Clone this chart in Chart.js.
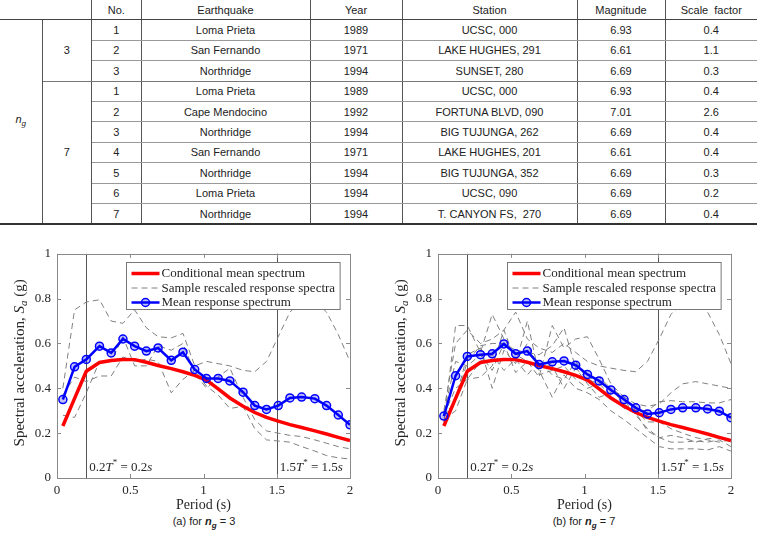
<!DOCTYPE html>
<html>
<head>
<meta charset="utf-8">
<script src="https://cdn.jsdelivr.net/npm/chart.js@4.4.0/dist/chart.umd.min.js"></script>
<style>
  body { margin: 0; width: 757px; height: 535px; background: #fff; position: relative; overflow: hidden; }
  #tbl { position: absolute; left: 0; top: 0; width: 757px; border-collapse: collapse; table-layout: fixed;
         font: 11px "Liberation Sans", Arial, sans-serif; color: #222; }
  #tbl th, #tbl td { padding: 0; text-align: center; font-weight: normal; height: 19.4px; line-height: 12px; }
  #tbl tr { height: 19.4px; }
  #tbl th { border-bottom: 1px solid #444; }
  #tbl .v { border-left: 1px solid #555; }
  #tbl .h { border-bottom: 1px solid #999; }
  #tbl .last td { border-bottom: 2px solid #333; }
  #tbl .ng { font-style: italic; border-right: 1px solid #555; border-bottom: 2px solid #333; }
  #tbl .grp { border-right: 1px solid #555; }
  .plot { position: absolute; top: 240px; }
  .cap { position: absolute; top: 515px; font: 11px "Liberation Sans", Arial, sans-serif; color: #222;
         transform: translateX(-50%); white-space: nowrap; }
  .cap b { font-style: italic; }
  .cap sub { font-size: 8px; }
</style>
</head>
<body>
<table id="tbl">
  <colgroup>
    <col style="width:42px"><col style="width:49.5px"><col style="width:49.5px"><col style="width:169px">
    <col style="width:92px"><col style="width:175px"><col style="width:88px"><col style="width:92px">
  </colgroup>
  <thead><tr id="head"></tr></thead>
  <tbody id="tbody"></tbody>
</table>

<div class="plot" style="left:0px"><canvas id="chartA" width="378" height="275"></canvas></div>
<div class="plot" style="left:378px"><canvas id="chartB" width="379" height="275"></canvas></div>
<div class="cap" style="left:204px">(a) for <b><i>n</i><sub>g</sub></b> = 3</div>
<div class="cap" style="left:584px">(b) for <b><i>n</i><sub>g</sub></b> = 7</div>

<script>
// ── Table data ───────────────────────────────────────────
const headers = ["No.", "Earthquake", "Year", "Station", "Magnitude", "Scale  factor"];
const groupSizes = [3, 7];
const recNo = [1, 2, 3, 1, 2, 3, 4, 5, 6, 7];
const quakes = ["Loma Prieta", "San Fernando", "Northridge", "Loma Prieta", "Cape Mendocino",
                "Northridge", "San Fernando", "Northridge", "Loma Prieta", "Northridge"];
const years = [1989, 1971, 1994, 1989, 1992, 1994, 1971, 1994, 1994, 1994];
const stations = ["UCSC, 000", "LAKE HUGHES, 291", "SUNSET, 280", "UCSC, 000", "FORTUNA BLVD, 090",
                  "BIG TUJUNGA, 262", "LAKE HUGHES, 201", "BIG TUJUNGA, 352", "UCSC, 090", "T. CANYON FS,  270"];
const magnitudes = ["6.93", "6.61", "6.69", "6.93", "7.01", "6.69", "6.61", "6.69", "6.69", "6.69"];
const scaleFactors = ["0.4", "1.1", "0.3", "0.4", "2.6", "0.4", "0.4", "0.3", "0.2", "0.4"];

// ── Spectra data ─────────────────────────────────────────
const periods = [0.04, 0.12, 0.20, 0.29, 0.37, 0.45, 0.53, 0.61, 0.69, 0.78, 0.86, 0.94, 1.02,
                 1.10, 1.18, 1.27, 1.35, 1.43, 1.51, 1.59, 1.67, 1.76, 1.84, 1.92, 2.00];
const cmsSa = [0.232, 0.355, 0.476, 0.515, 0.524, 0.529, 0.528, 0.516, 0.502, 0.488, 0.474, 0.458, 0.437,
               0.398, 0.357, 0.32, 0.292, 0.27, 0.254, 0.238, 0.225, 0.21, 0.196, 0.181, 0.167];
const meanSaA = [0.35, 0.496, 0.529, 0.588, 0.558, 0.62, 0.588, 0.566, 0.58, 0.525, 0.561, 0.484, 0.444,
                 0.444, 0.433, 0.383, 0.323, 0.306, 0.323, 0.357, 0.361, 0.354, 0.323, 0.281, 0.237];
const meanSaB = [0.276, 0.456, 0.542, 0.55, 0.554, 0.598, 0.554, 0.566, 0.506, 0.518, 0.522, 0.503, 0.462,
                 0.433, 0.393, 0.35, 0.313, 0.286, 0.291, 0.306, 0.313, 0.313, 0.308, 0.298, 0.269];
const samplesA = [
  [0.40, 0.75, 0.785, 0.795, 0.70, 0.69, 0.75, 0.67, 0.63, 0.625, 0.645, 0.50, 0.52, 0.51, 0.50, 0.48, 0.474, 0.52, 0.63, 0.74, 0.79, 0.79, 0.74, 0.64, 0.52],
  [0.28, 0.27, 0.38, 0.52, 0.52, 0.63, 0.50, 0.50, 0.59, 0.57, 0.60, 0.47, 0.40, 0.45, 0.49, 0.36, 0.26, 0.21, 0.20, 0.19, 0.185, 0.17, 0.155, 0.14, 0.13],
  [0.37, 0.45, 0.43, 0.455, 0.455, 0.54, 0.52, 0.53, 0.52, 0.38, 0.44, 0.48, 0.41, 0.37, 0.31, 0.32, 0.22, 0.17, 0.165, 0.16, 0.14, 0.12, 0.10, 0.09, 0.085],
];
const samplesB = [
  [0.30, 0.60, 0.66, 0.60, 0.62, 0.66, 0.74, 0.62, 0.58, 0.56, 0.60, 0.56, 0.52, 0.50, 0.49, 0.48, 0.474, 0.52, 0.62, 0.73, 0.78, 0.79, 0.74, 0.64, 0.51],
  [0.25, 0.68, 0.68, 0.56, 0.73, 0.62, 0.55, 0.52, 0.45, 0.68, 0.58, 0.62, 0.63, 0.53, 0.42, 0.36, 0.30, 0.25, 0.25, 0.22, 0.20, 0.18, 0.17, 0.16, 0.17],
  [0.28, 0.40, 0.44, 0.45, 0.50, 0.66, 0.52, 0.60, 0.48, 0.36, 0.46, 0.40, 0.38, 0.35, 0.30, 0.26, 0.22, 0.18, 0.14, 0.13, 0.13, 0.13, 0.125, 0.14, 0.12],
  [0.27, 0.35, 0.55, 0.58, 0.40, 0.57, 0.51, 0.70, 0.46, 0.48, 0.50, 0.44, 0.40, 0.42, 0.40, 0.36, 0.33, 0.32, 0.33, 0.38, 0.42, 0.43, 0.42, 0.41, 0.40],
  [0.26, 0.30, 0.44, 0.52, 0.55, 0.48, 0.53, 0.46, 0.52, 0.46, 0.44, 0.52, 0.44, 0.45, 0.40, 0.33, 0.30, 0.30, 0.34, 0.345, 0.34, 0.34, 0.335, 0.335, 0.35],
  [0.29, 0.52, 0.50, 0.55, 0.48, 0.60, 0.47, 0.52, 0.50, 0.50, 0.40, 0.49, 0.42, 0.36, 0.38, 0.35, 0.28, 0.22, 0.18, 0.16, 0.16, 0.165, 0.16, 0.17, 0.14],
  [0.28, 0.34, 0.52, 0.59, 0.60, 0.60, 0.57, 0.56, 0.55, 0.59, 0.67, 0.49, 0.44, 0.42, 0.37, 0.31, 0.29, 0.21, 0.18, 0.19, 0.18, 0.16, 0.175, 0.18, 0.16],
];
const xTicks = [0, 0.5, 1, 1.5, 2];
const yTicks = [0, 0.2, 0.4, 0.6, 0.8, 1];
const refPeriods = [0.2, 1.5];
const legendLabels = ["Conditional mean spectrum", "Sample rescaled response spectra", "Mean response spectrum"];

// ── Build table ──────────────────────────────────────────
const head = document.getElementById("head");
head.innerHTML = `<th colspan="2"></th>` + headers.map(h => `<th class="v">${h.replace(/  /g, "&nbsp; ")}</th>`).join("");
const tbody = document.getElementById("tbody");
let html = "";
let i = 0;
groupSizes.forEach((n, g) => {
  for (let k = 0; k < n; k++, i++) {
    const lastRow = i === recNo.length - 1;
    const rowLine = k === n - 1 ? (lastRow ? "" : "border-bottom:1px solid #777;") : "";
    html += `<tr class="${lastRow ? "last" : ""}">`;
    if (i === 0) html += `<td class="ng" rowspan="${recNo.length}">n<sub style="font-size:8px">g</sub></td>`;
    if (k === 0) html += `<td class="grp" rowspan="${n}" style="${g === groupSizes.length - 1 ? "border-bottom:2px solid #333" : "border-bottom:1px solid #777"}">${n}</td>`;
    const cls = k === n - 1 ? "" : "h";
    const cells = [recNo[i], quakes[i], years[i], stations[i], magnitudes[i], scaleFactors[i]];
    html += cells.map((c, j) => `<td class="${cls}${j ? " v" : ""}" style="${rowLine}">${String(c).replace(/  /g, "&nbsp; ")}</td>`).join("");
    html += "</tr>";
  }
});
tbody.innerHTML = html;

// ── Chart helpers ────────────────────────────────────────
const serif = '"Liberation Serif", "Times New Roman", serif';
const ink = "#262626";

function richWidth(ctx, parts) {
  let w = 0;
  for (const p of parts) { ctx.font = p.font; w += ctx.measureText(p.t).width; }
  return w;
}
function drawRich(ctx, parts, x, y) {
  for (const p of parts) {
    ctx.font = p.font;
    ctx.fillText(p.t, x, y + (p.dy || 0));
    x += ctx.measureText(p.t).width;
  }
}
function annot(v) {
  return [
    { t: v, font: `13px ${serif}` },
    { t: "T", font: `italic 13px ${serif}` },
    { t: "*", font: `9px ${serif}`, dy: -5 },
    { t: " = " + v, font: `13px ${serif}` },
    { t: "s", font: `italic 13px ${serif}` },
  ];
}

const decor = {
  id: "decor",
  beforeDatasetsDraw(chart) {
    const { ctx, chartArea: a, scales: { x } } = chart;
    ctx.save();
    ctx.strokeStyle = "#555";
    ctx.lineWidth = 1;
    for (const p of refPeriods) {
      const px = Math.round(x.getPixelForValue(p)) + 0.5;
      ctx.beginPath(); ctx.moveTo(px, a.top); ctx.lineTo(px, a.bottom); ctx.stroke();
    }
    ctx.restore();
  },
  afterDraw(chart) {
    const { ctx, chartArea: a, scales: { x, y } } = chart;
    ctx.save();
    // reference labels
    ctx.fillStyle = ink;
    ctx.textBaseline = "middle";
    drawRich(ctx, annot("0.2"), x.getPixelForValue(refPeriods[0]) + 3, a.bottom - 10);
    drawRich(ctx, annot("1.5"), x.getPixelForValue(refPeriods[1]) + 3, a.bottom - 10);

    // axes box and inward ticks
    ctx.strokeStyle = "#8a8a8a";
    ctx.lineWidth = 1;
    ctx.strokeRect(Math.round(a.left) + 0.5, Math.round(a.top) + 0.5, Math.round(a.width), Math.round(a.height));
    ctx.beginPath();
    for (const v of xTicks) {
      const px = Math.round(x.getPixelForValue(v)) + 0.5;
      ctx.moveTo(px, a.bottom); ctx.lineTo(px, a.bottom - 4);
      ctx.moveTo(px, a.top); ctx.lineTo(px, a.top + 4);
    }
    for (const v of yTicks) {
      const py = Math.round(y.getPixelForValue(v)) + 0.5;
      ctx.moveTo(a.left, py); ctx.lineTo(a.left + 4, py);
      ctx.moveTo(a.right, py); ctx.lineTo(a.right - 4, py);
    }
    ctx.stroke();

    // legend
    const lf = `13px ${serif}`;
    ctx.font = lf;
    const tw = Math.max(...legendLabels.map(l => ctx.measureText(l).width));
    const bw = 36 + tw + 4, bh = 47;
    const bx = Math.round(a.right - 10 - bw) + 0.5, by = Math.round(a.top + 8) + 0.5;
    ctx.fillStyle = "#fff";
    ctx.fillRect(bx, by, bw, bh);
    ctx.strokeStyle = "#777";
    ctx.strokeRect(bx, by, bw, bh);
    const rows = [by + 11, by + 25.5, by + 40];
    const x0 = bx + 5, x1 = bx + 33;
    ctx.lineCap = "butt";
    ctx.strokeStyle = "#ff0000"; ctx.lineWidth = 3.5;
    ctx.beginPath(); ctx.moveTo(x0, rows[0]); ctx.lineTo(x1, rows[0]); ctx.stroke();
    ctx.strokeStyle = "#808080"; ctx.lineWidth = 1; ctx.setLineDash([6, 4]);
    ctx.beginPath(); ctx.moveTo(x0, rows[1]); ctx.lineTo(x1, rows[1]); ctx.stroke();
    ctx.setLineDash([]);
    ctx.strokeStyle = "#0000ff"; ctx.lineWidth = 2.5;
    ctx.beginPath(); ctx.moveTo(x0, rows[2]); ctx.lineTo(x1, rows[2]); ctx.stroke();
    ctx.lineWidth = 1.5; ctx.fillStyle = "rgba(0,0,255,0.25)";
    ctx.beginPath(); ctx.arc((x0 + x1) / 2, rows[2], 4, 0, Math.PI * 2); ctx.fill(); ctx.stroke();
    ctx.fillStyle = ink;
    ctx.font = lf;
    legendLabels.forEach((l, k) => ctx.fillText(l, bx + 35, rows[k] + 0.5));

    // axis titles
    ctx.font = `14px ${serif}`;
    ctx.textAlign = "center";
    ctx.fillText("Period (s)", (a.left + a.right) / 2, a.bottom + 27);
    ctx.textAlign = "left";
    const yt = [
      { t: "Spectral acceleration, ", font: `15px ${serif}` },
      { t: "S", font: `italic 15px ${serif}` },
      { t: "a", font: `italic 11px ${serif}`, dy: 4 },
      { t: " (g)", font: `15px ${serif}` },
    ];
    ctx.translate(a.left - 37, (a.top + a.bottom) / 2 - 3);
    ctx.rotate(-Math.PI / 2);
    drawRich(ctx, yt, -richWidth(ctx, yt) / 2, 0);
    ctx.restore();
  },
};

function makeChart(id, meanSa, samples, yWidth, padRight) {
  const pts = arr => periods.map((p, k) => ({ x: p, y: arr[k] }));
  const datasets = [
    {
      label: legendLabels[2], data: pts(meanSa), order: 0,
      borderColor: "#0000ff", borderWidth: 2.5, pointRadius: 4, pointBorderWidth: 1.5,
      pointBackgroundColor: "rgba(0,0,255,0.25)", pointBorderColor: "#0000ff",
    },
    {
      label: legendLabels[0], data: pts(cmsSa), order: 1,
      borderColor: "#ff0000", borderWidth: 3.5, pointRadius: 0,
    },
    ...samples.map(s => ({
      label: legendLabels[1], data: pts(s), order: 2,
      borderColor: "#808080", borderWidth: 1, borderDash: [6, 4], pointRadius: 0,
    })),
  ];
  return new Chart(document.getElementById(id), {
    type: "line",
    data: { datasets },
    plugins: [decor],
    options: {
      responsive: false,
      animation: false,
      devicePixelRatio: 1,
      layout: { padding: { top: 10, right: padRight, left: 0, bottom: 0 } },
      plugins: { legend: { display: false }, tooltip: { enabled: false } },
      scales: {
        x: {
          type: "linear", min: 0, max: 2,
          afterBuildTicks: s => { s.ticks = xTicks.map(v => ({ value: v })); },
          afterFit: s => { s.height = 37; },
          grid: { display: false, drawTicks: false }, border: { display: false },
          ticks: { color: ink, font: { family: serif, size: 13 }, padding: 5, maxRotation: 0,
                   callback: v => String(v) },
        },
        y: {
          type: "linear", min: 0, max: 1,
          afterBuildTicks: s => { s.ticks = yTicks.map(v => ({ value: v })); },
          afterFit: s => { s.width = yWidth; },
          grid: { display: false, drawTicks: false }, border: { display: false },
          ticks: { color: ink, font: { family: serif, size: 13 }, padding: 6,
                   callback: v => String(v) },
        },
      },
    },
  });
}

makeChart("chartA", meanSaA, samplesA, 57, 28);
makeChart("chartB", meanSaB, samplesB, 60, 26);
</script>
</body>
</html>
